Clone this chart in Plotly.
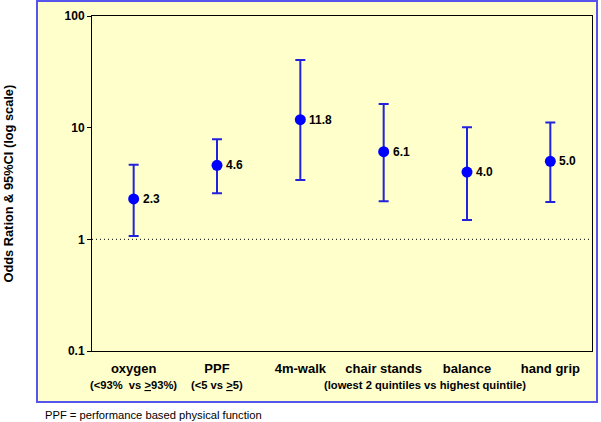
import math
import plotly.graph_objects as go

categories = ['oxygen', 'PPF', '4m-walk', 'chair stands', 'balance', 'hand grip']
odds_ratio = [2.3, 4.6, 11.8, 6.1, 4.0, 5.0]
ci_low = [1.07, 2.58, 3.4, 2.19, 1.49, 2.16]
ci_high = [4.66, 7.86, 40.3, 16.3, 10.1, 11.1]

y_tickvals = [0.1, 1, 10, 100]
y_ticktext = ['0.1', '1', '10', '100']

sub_labels = [
    ('oxygen', '(&lt;93%  vs <u>></u>93%)'),
    ('PPF', '(&lt;5 vs <u>></u>5)'),
]
group_label = '(lowest 2 quintiles vs highest quintile)'
footnote = 'PPF = performance based physical function'

FONT = 'Arial, Liberation Sans, sans-serif'
YELLOW = '#FFFFCC'
BLUE = '#0000FF'

traces = [
    go.Scatter(
        x=categories,
        y=odds_ratio,
        mode='markers',
        marker=dict(color=BLUE, size=11),
        error_y=dict(
            type='data',
            symmetric=False,
            array=[h - v for h, v in zip(ci_high, odds_ratio)],
            arrayminus=[v - l for v, l in zip(odds_ratio, ci_low)],
            color='#2222DD',
            thickness=2,
            width=5,
        ),
        showlegend=False,
        hoverinfo='skip',
    ),
]

annotations = []
for cat, v in zip(categories, odds_ratio):
    annotations.append(dict(
        x=cat, y=math.log10(v), xref='x', yref='y',
        text=f'<b>{v:.1f}</b>', showarrow=False,
        xanchor='left', xshift=7,
        font=dict(family=FONT, size=12, color='black'),
    ))

for cat, txt in sub_labels:
    annotations.append(dict(
        x=cat, y=-0.1, xref='x', yref='paper',
        text=f'<b>{txt}</b>', showarrow=False,
        xanchor='center', yanchor='middle',
        font=dict(family=FONT, size=11.2, color='black'),
    ))

annotations.append(dict(
    x=3.5, y=-0.1, xref='x', yref='paper',
    text=f'<b>{group_label}</b>', showarrow=False,
    xanchor='center', yanchor='middle',
    font=dict(family=FONT, size=11.2, color='black'),
))

annotations.append(dict(
    x=-0.168, y=0.5, xref='paper', yref='paper',
    text='<b>Odds Ration & 95%CI (log scale)</b>', showarrow=False,
    textangle=-90, xanchor='center', yanchor='middle',
    font=dict(family=FONT, size=12.8, color='black'),
))

annotations.append(dict(
    x=-0.098, y=-0.191, xref='paper', yref='paper',
    text=footnote, showarrow=False,
    xanchor='left', yanchor='middle',
    font=dict(family=FONT, size=11.2, color='black'),
))

shapes = [
    dict(
        type='rect', xref='paper', yref='paper',
        x0=-0.11, x1=1.01, y0=-0.1522, y1=1.0448,
        fillcolor=YELLOW, line=dict(color='#5555EE', width=2),
        layer='below',
    ),
    dict(
        type='line', xref='paper', yref='y',
        x0=0, x1=1, y0=1, y1=1,
        line=dict(color='black', width=1, dash='1px,3px'),
    ),
]

layout = go.Layout(
    width=601,
    height=422,
    margin=dict(l=92, r=9, t=16, b=71),
    paper_bgcolor='white',
    plot_bgcolor=YELLOW,
    font=dict(family=FONT, color='black'),
    xaxis=dict(
        type='category',
        range=[-0.5, 5.5],
        showgrid=False,
        zeroline=False,
        showline=True,
        linecolor='black',
        linewidth=1,
        mirror=True,
        ticks='outside',
        ticklen=5,
        tickcolor='rgba(0,0,0,0)',
        tickfont=dict(family=FONT, size=13, color='black'),
        tickvals=categories,
        ticktext=[f'<b>{c}</b>' for c in categories],
    ),
    yaxis=dict(
        type='log',
        range=[-1, 2],
        showgrid=False,
        zeroline=False,
        showline=True,
        linecolor='black',
        linewidth=1,
        mirror=True,
        ticks='outside',
        ticklen=4,
        tickcolor='black',
        tickvals=y_tickvals,
        ticktext=[f'<b>{t}</b>' for t in y_ticktext],
        tickfont=dict(family=FONT, size=12, color='black'),
    ),
    annotations=annotations,
    shapes=shapes,
)

fig = go.Figure(data=traces, layout=layout)
fig.write_html(
    'out.html',
    config={'displayModeBar': False},
    post_script="document.body.style.margin='0';",
)
